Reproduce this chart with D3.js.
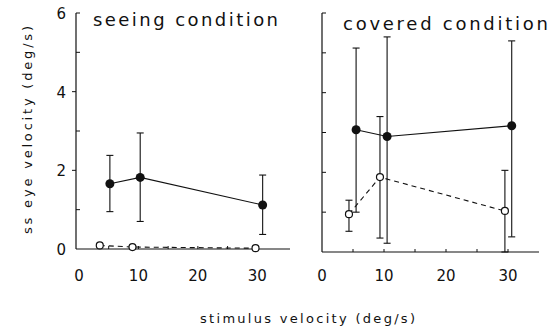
<!DOCTYPE html>
<html>
<head>
<meta charset="utf-8">
<script src="https://cdn.jsdelivr.net/npm/d3@7"></script>
<style>
  body { margin: 0; background: #fff; }
  svg text { font-family: "DejaVu Sans", "Liberation Sans", sans-serif; fill: #111; }
</style>
</head>
<body>
<svg id="chart" width="556" height="330"></svg>
<script>
// stimulus velocity (deg/s) and ss eye velocity (deg/s)
const seeFilledX = [5.2, 10.3, 30.9];
const seeFilledY = [1.66, 1.82, 1.12];
const seeFilledLo = [0.95, 0.7, 0.37];
const seeFilledHi = [2.38, 2.95, 1.88];
const seeOpenX = [3.5, 9.0, 29.7];
const seeOpenY = [0.09, 0.05, 0.02];

const covFilledX = [5.5, 10.5, 30.6];
const covFilledY = [3.07, 2.9, 3.17];
const covFilledLo = [1.0, 0.22, 0.38];
const covFilledHi = [5.12, 5.4, 5.3];
const covOpenX = [4.35, 9.35, 29.5];
const covOpenY = [0.95, 1.88, 1.03];
const covOpenLo = [0.52, 0.35, 0.0];
const covOpenHi = [1.3, 3.4, 2.05];

const xTickLabels = [0, 10, 20, 30];
const yTickLabels = [0, 2, 4, 6];

const svg = d3.select("#chart");

function drawPanel(opt) {
  const x = d3.scaleLinear().domain(opt.xDomain).range(opt.xRange);
  const y = d3.scaleLinear().domain([0, 6]).range(opt.yRange);
  const g = svg.append("g");

  // y axis line
  g.append("line")
    .attr("x1", opt.xRange[0]).attr("x2", opt.xRange[0])
    .attr("y1", y(0)).attr("y2", y(6))
    .attr("stroke", "#111").attr("stroke-width", 1.2);
  // small ticks each unit (even ones outward on the labelled axis)
  g.selectAll(".ytk").data(d3.range(1, 7)).enter().append("line")
    .attr("x1", opt.xRange[0])
    .attr("x2", d => (opt.yLabels && d % 2 === 0 && d !== 6) ? opt.xRange[0] - 4 : opt.xRange[0] + 4)
    .attr("y1", d => y(d)).attr("y2", d => y(d))
    .attr("stroke", "#111").attr("stroke-width", 1);

  // x axis line
  g.append("line")
    .attr("x1", opt.xRange[0]).attr("x2", opt.xRange[1])
    .attr("y1", y(0)).attr("y2", y(0))
    .attr("stroke", "#111").attr("stroke-width", 1.2);
  g.selectAll(".xtk").data([5, 10, 15, 20, 25, 30]).enter().append("line")
    .attr("x1", d => x(d)).attr("x2", d => x(d))
    .attr("y1", y(0)).attr("y2", y(0) - 3)
    .attr("stroke", "#111").attr("stroke-width", 1);

  // x tick labels
  g.selectAll(".xl").data(xTickLabels).enter().append("text")
    .attr("x", d => x(d)).attr("y", 281)
    .attr("text-anchor", "middle")
    .style("font-size", "15px")
    .text(d => d);

  if (opt.yLabels) {
    g.selectAll(".ytl").data(yTickLabels).enter().append("text")
      .attr("x", 66).attr("y", d => y(d) + 6)
      .attr("text-anchor", "end")
      .style("font-size", "15px")
      .text(d => d);
  }

  // title
  g.append("text")
    .attr("x", opt.titleX).attr("y", opt.titleY)
    .attr("textLength", opt.titleLen)
    .style("font-size", "18px")
    .text(opt.title);

  const filled = opt.filledX.map((d, i) => ({x: d, y: opt.filledY[i], lo: opt.filledLo[i], hi: opt.filledHi[i]}));
  const open = opt.openX.map((d, i) => ({x: d, y: opt.openY[i],
    lo: opt.openLo ? opt.openLo[i] : null, hi: opt.openHi ? opt.openHi[i] : null}));

  const line = d3.line().x(d => x(d.x)).y(d => y(d.y));

  // error bars
  function bars(data) {
    const eb = g.selectAll(null).data(data.filter(d => d.lo !== null)).enter().append("g");
    eb.append("line")
      .attr("x1", d => x(d.x)).attr("x2", d => x(d.x))
      .attr("y1", d => y(d.lo)).attr("y2", d => y(d.hi))
      .attr("stroke", "#111").attr("stroke-width", 1.1);
    [d => d.lo, d => d.hi].forEach(f => {
      eb.append("line")
        .attr("x1", d => x(d.x) - 3.5).attr("x2", d => x(d.x) + 3.5)
        .attr("y1", d => y(f(d))).attr("y2", d => y(f(d)))
        .attr("stroke", "#111").attr("stroke-width", 1.1);
    });
  }
  bars(filled);
  bars(open);

  g.append("path").datum(open).attr("d", line)
    .attr("fill", "none").attr("stroke", "#111").attr("stroke-width", 1.1)
    .attr("stroke-dasharray", "5,4");
  g.append("path").datum(filled).attr("d", line)
    .attr("fill", "none").attr("stroke", "#111").attr("stroke-width", 1.1);

  g.selectAll(null).data(open).enter().append("circle")
    .attr("cx", d => x(d.x)).attr("cy", d => y(d.y)).attr("r", 3.5)
    .attr("fill", "#fff").attr("stroke", "#111").attr("stroke-width", 1.2);
  g.selectAll(null).data(filled).enter().append("circle")
    .attr("cx", d => x(d.x)).attr("cy", d => y(d.y)).attr("r", 4.5)
    .attr("fill", "#111");
}

drawPanel({
  xDomain: [-0.5, 35.5], xRange: [76, 290], yRange: [249, 13],
  yLabels: true, title: "seeing condition", titleX: 93, titleY: 26, titleLen: 185,
  filledX: seeFilledX, filledY: seeFilledY, filledLo: seeFilledLo, filledHi: seeFilledHi,
  openX: seeOpenX, openY: seeOpenY
});

drawPanel({
  xDomain: [0, 35], xRange: [322, 539], yRange: [252, 13],
  yLabels: false, title: "covered condition", titleX: 343, titleY: 30, titleLen: 205,
  filledX: covFilledX, filledY: covFilledY, filledLo: covFilledLo, filledHi: covFilledHi,
  openX: covOpenX, openY: covOpenY, openLo: covOpenLo, openHi: covOpenHi
});

// axis titles
svg.append("text")
  .attr("transform", "translate(32,130) rotate(-90)")
  .attr("text-anchor", "middle")
  .attr("textLength", 208)
  .style("font-size", "13px")
  .text("ss eye velocity (deg/s)");

svg.append("text")
  .attr("x", 200).attr("y", 323)
  .attr("textLength", 215)
  .style("font-size", "13px")
  .text("stimulus velocity (deg/s)");
</script>
</body>
</html>
